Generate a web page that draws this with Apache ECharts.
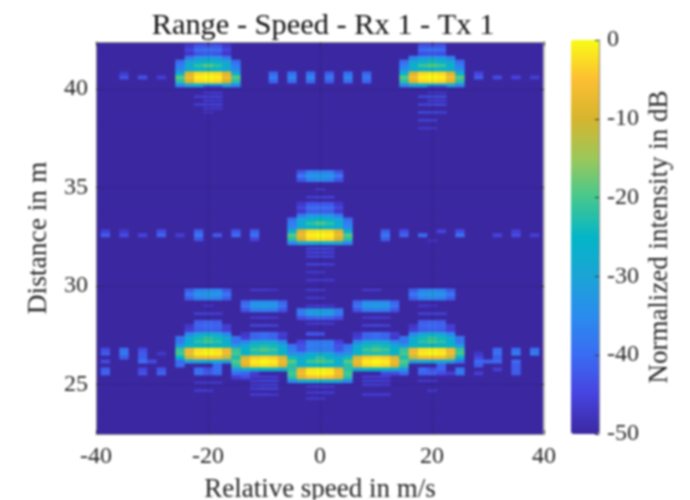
<!DOCTYPE html>
<html>
<head>
<meta charset="utf-8">
<style>
  html, body { margin: 0; padding: 0; background: #fff; }
  #chart { width: 690px; height: 500px; filter: blur(0.8px); }
</style>
<script src="https://cdn.jsdelivr.net/npm/echarts@6/dist/echarts.min.js"></script>
</head>
<body>
<div id="chart"></div>
<script>
// bin sizes of the range-doppler map
var speedStep = 5 / 3
var rangeStep = 0.2
var fineStep = 0.1
var speedBins = [-24, -23, -22, -21, -20, -19, -18, -17, -16, -15, -14, -13, -12, -11, -10, -9, -8, -7, -6, -5, -4, -3, -2, -1, 0,
  1, 2, 3, 4, 5, 6, 7, 8, 9, 10, 11, 12, 13, 14, 15, 16, 17, 18, 19, 20, 21, 22, 23, 24]
var firstRange = 22.6
var rangeRows = 100
var floorDb = -50

var yTicks = [25, 30, 35, 40]

// every row: distance in m, first speed bin, then dB values going right
var farLeftRows = [
  [42.2, -14, -47, -43, -43, -43, -47],
  [42.0, -14, -45, -40, -39, -40, -45],
  [41.8, -14, -47, -43, -42, -43, -47],
  [41.6, -14, -38, -33, -32, -33, -38],
  [41.4, -15, -40, -30, -27, -25, -27, -30, -40],
  [41.2, -15, -37, -27, -22, -19, -22, -27, -37],
  [41.0, -15, -36, -29, -26, -25, -26, -29, -36],
  [40.8, -15, -27, -9, -3, -2, -3, -9, -27],
  [40.6, -15, -19, -7, -1, 0, -1, -7, -19],
  [40.4, -15, -22, -10, -3, -2, -3, -10, -22],
  [40.2, -15, -36, -30, -28, -28, -28, -30, -36]
]
var farRightRows = [
  [42.2, 11, -43, -43, -43],
  [42.0, 11, -40, -39, -40],
  [41.8, 11, -44, -43, -44],
  [41.6, 10, -37, -33, -32, -33, -37],
  [41.4, 9, -40, -29, -26, -24, -26, -29, -40],
  [41.2, 9, -37, -26, -21, -19, -21, -26, -37],
  [41.0, 9, -35, -28, -26, -25, -26, -28, -35],
  [40.8, 9, -26, -9, -3, -2, -3, -9, -26],
  [40.6, 9, -19, -6, -1, 0, -1, -6, -19],
  [40.4, 9, -22, -9, -3, -2, -3, -9, -22],
  [40.2, 9, -36, -29, -28, -27, -28, -29, -36]
]
var farDotRows = [
  [40.8, -21, -47], [40.6, -21, -43], [40.6, -19, -43], [40.6, -17, -46],
  [40.8, -5, -41], [40.6, -5, -37], [40.4, -5, -41],
  [40.8, -3, -40], [40.6, -3, -36], [40.4, -3, -40],
  [40.8, -1, -40], [40.6, -1, -36], [40.4, -1, -40],
  [40.8, 1, -42], [40.6, 1, -38], [40.4, 1, -42],
  [40.8, 3, -40], [40.6, 3, -36], [40.4, 3, -40],
  [40.8, 5, -41], [40.6, 5, -38], [40.4, 5, -41],
  [40.6, 17, -42], [40.8, 17, -45], [40.6, 19, -44], [40.6, 21, -45], [40.6, 23, -46]
]
var centerRows = [
  [35.8, -2, -43, -37, -37, -37, -43],
  [35.6, -2, -38, -33, -32, -33, -38],
  [35.4, -2, -43, -37, -36, -37, -43],
  [34.2, -2, -47, -43, -43, -43, -47],
  [34.0, -2, -45, -40, -39, -40, -45],
  [33.8, -2, -47, -42, -42, -42, -47],
  [33.6, -2, -38, -33, -32, -33, -38],
  [33.4, -3, -40, -30, -27, -25, -27, -30, -40],
  [33.2, -3, -37, -27, -22, -19, -22, -27, -37],
  [33.0, -3, -36, -29, -26, -25, -26, -29, -36],
  [32.8, -3, -27, -9, -3, -2, -3, -9, -27],
  [32.6, -3, -19, -7, -1, 0, -1, -7, -19],
  [32.4, -3, -22, -10, -3, -2, -3, -10, -22],
  [32.2, -3, -36, -30, -28, -28, -28, -30, -36]
]
var centerDotRows = [
  [32.6, -23, -42], [32.8, -23, -46], [32.6, -21, -44], [32.8, -21, -47], [32.6, -19, -45], [32.6, -17, -41], [32.8, -17, -44],
  [32.6, -15, -46], [32.8, -13, -42], [32.6, -13, -38], [32.4, -13, -43], [32.6, -11, -42], [32.8, -9, -43], [32.6, -9, -40],
  [32.8, -7, -42], [32.6, -7, -39], [32.4, -7, -45],
  [32.8, 7, -42], [32.6, 7, -38], [32.4, 7, -42], [32.8, 9, -44], [32.6, 9, -41], [32.6, 11, -40],
  [32.8, 13, -45], [32.8, 15, -44], [32.6, 15, -39], [32.6, 19, -45], [32.6, 21, -44], [32.8, 21, -46], [32.6, 23, -46]
]
var nearLeftRows = [
  [29.8, -14, -42, -37, -36, -36, -42],
  [29.6, -14, -38, -33, -32, -33, -38],
  [29.4, -14, -42, -37, -36, -37, -42],
  [28.2, -13, -42, -41, -42],
  [28.0, -14, -47, -41, -40, -41, -46],
  [27.8, -14, -46, -42, -41, -42, -46],
  [27.6, -14, -36, -30, -28, -30, -36],
  [27.4, -15, -39, -29, -24, -22, -24, -29, -39],
  [27.2, -15, -38, -27, -22, -20, -22, -27, -38],
  [27.0, -15, -32, -25, -26, -25, -26, -25, -32],
  [26.8, -15, -21, -7, -2, -1, -2, -7, -21],
  [26.6, -15, -20, -6, -1, 0, -1, -6, -20],
  [26.4, -15, -25, -12, -6, -5, -6, -12, -25],
  [26.2, -15, -40, -31, -29, -29, -29, -31, -39],
  [26.0, -15, -40],
  [26.0, -11, -40],
  [25.8, -13, -40, -43, -39],
  [25.6, -13, -39, -42, -40]
]
var nearRightRows = [
  [29.8, 10, -42, -37, -36, -37, -42],
  [29.6, 10, -38, -33, -32, -33, -38],
  [29.4, 10, -42, -37, -36, -37, -42],
  [28.2, 11, -42, -41, -42],
  [28.0, 10, -47, -41, -40, -41, -46],
  [27.8, 10, -46, -42, -41, -42, -46],
  [27.6, 10, -36, -30, -28, -30, -36],
  [27.4, 9, -39, -29, -24, -22, -24, -29, -39],
  [27.2, 9, -38, -27, -22, -20, -22, -27, -38],
  [27.0, 9, -32, -25, -26, -25, -26, -25, -32],
  [26.8, 9, -21, -7, -2, -1, -2, -7, -21],
  [26.6, 9, -20, -6, -1, 0, -1, -6, -20],
  [26.4, 9, -25, -12, -6, -5, -6, -12, -25],
  [26.2, 9, -39, -31, -29, -29, -29, -31, -39],
  [26.0, 13, -41],
  [25.8, 11, -40, -43, -41],
  [25.8, 15, -38],
  [25.6, 11, -41, -41, -44, -46, -38]
]
var nearMidLeftRows = [
  [29.2, -8, -41, -35, -34, -35, -41],
  [29.0, -8, -39, -33, -32, -33, -39],
  [28.8, -8, -43, -38, -37, -38, -43],
  [27.6, -8, -47, -41, -40, -41, -46],
  [27.4, -8, -46, -41, -40, -41, -47],
  [27.2, -8, -36, -30, -28, -30, -36],
  [27.0, -9, -39, -28, -24, -23, -24, -28, -39],
  [26.8, -9, -27, -26, -21, -19, -21, -26, -37],
  [26.6, -9, -22, -26, -23, -23, -23, -26, -34],
  [26.4, -9, -23, -9, -4, -3, -4, -9, -24],
  [26.2, -9, -19, -7, -1, 0, -1, -7, -19],
  [26.0, -9, -22, -9, -3, -2, -3, -9, -22],
  [25.8, -9, -33, -28, -26, -26, -26, -28, -33],
  [25.6, -9, -40, -41, -46],
  [25.4, -9, -46, -44]
]
var nearMidRightRows = [
  [29.2, 4, -41, -35, -34, -35, -41],
  [29.0, 4, -39, -33, -32, -33, -39],
  [28.8, 4, -43, -38, -37, -38, -43],
  [27.6, 4, -47, -41, -40, -41, -46],
  [27.4, 4, -46, -41, -40, -41, -47],
  [27.2, 4, -36, -30, -28, -30, -36],
  [27.0, 3, -39, -28, -24, -23, -24, -28, -39],
  [26.8, 3, -37, -26, -21, -19, -21, -26, -27],
  [26.6, 3, -34, -26, -23, -23, -23, -26, -22],
  [26.4, 3, -24, -9, -4, -3, -4, -9, -23],
  [26.2, 3, -19, -7, -1, 0, -1, -7, -19],
  [26.0, 3, -22, -9, -3, -2, -3, -9, -22],
  [25.8, 3, -33, -28, -26, -26, -26, -28, -33],
  [25.6, 7, -44, -44],
  [25.6, 9, -40]
]
var nearCenterRows = [
  [28.8, -2, -38, -33, -32, -33, -38],
  [28.6, -2, -38, -32, -31, -32, -38],
  [28.4, -2, -44, -42, -41, -42, -44],
  [27.6, -1, -43, -43],
  [27.2, -2, -45, -38, -38, -38, -45],
  [27.0, -2, -43, -37, -37, -37, -43],
  [26.8, -2, -43, -38, -38, -38, -43],
  [26.6, -2, -34, -30, -29, -30, -36],
  [26.4, -3, -36, -29, -25, -22, -25, -29, -36],
  [26.2, -3, -32, -26, -21, -19, -21, -26, -32],
  [26.0, -3, -31, -28, -26, -25, -26, -28, -31],
  [25.8, -3, -22, -8, -2, -1, -2, -8, -22],
  [25.6, -3, -20, -6, -1, 0, -1, -6, -20],
  [25.4, -3, -22, -9, -5, -4, -5, -9, -22],
  [25.2, -3, -36, -30, -28, -28, -28, -30, -36]
]
var nearDotRows = [
  [26.8, -23, -44], [26.6, -23, -42], [26.2, -23, -44], [25.8, -23, -42], [25.6, -23, -41],
  [26.8, -21, -39], [26.6, -21, -38], [26.4, -21, -42],
  [26.8, -19, -44], [26.6, -19, -42], [26.4, -19, -42], [26.2, -19, -39], [26.2, -18, -44], [25.8, -19, -45], [25.6, -19, -43],
  [26.6, -17, -47], [25.8, -17, -43], [25.6, -17, -41],
  [26.6, 17, -47], [26.4, 17, -45], [26.2, 17, -40], [26.0, 17, -42], [26.2, 18, -41], [26.2, 19, -40], [25.6, 17, -46],
  [26.8, 19, -40], [26.6, 19, -39], [26.4, 19, -42], [25.8, 19, -46],
  [26.8, 21, -40], [26.6, 21, -37], [26.2, 21, -40], [26.0, 21, -42], [25.8, 21, -42], [25.6, 21, -42],
  [26.8, 23, -39], [26.6, 23, -37]
]
// thin side lobes, half a row high
var farFineLines = [
  [40.1, -12, -47, -47], [39.8, -12, -46, -46], [39.6, -13, -45, -44, -44], [39.4, -12, -45, -46],
  [39.2, -13, -45, -44, -44], [39.0, -12, -46, -46], [38.8, -12, -47],
  [40.1, 12, -47, -47], [39.8, 12, -47, -47], [39.6, 11, -43, -42, -42], [39.4, 12, -45, -45],
  [39.2, 11, -44, -43, -43], [38.8, 11, -43, -43, -44], [38.4, 11, -44, -44], [38.0, 11, -46, -46]
]
var centerFineLines = [
  [34.9, 0, -46], [34.5, -1, -45, -44, -44], [31.9, -1, -44, -43, -44], [31.7, -1, -44, -43, -44],
  [31.5, -1, -44, -44, -44], [31.1, -1, -44, -44, -45], [30.7, -1, -46, -46], [30.3, -1, -46, -46, -46],
  [32.3, 12, -47]
]
var nearFineLines = [
  [29.0, -12, -47], [28.6, -13, -44, -44, -45], [25.1, -13, -46, -46, -46], [24.7, -13, -45, -45],
  [29.0, 11, -46, -47], [28.6, 11, -44, -44, -44], [25.2, 11, -46, -46], [24.7, 12, -46],
  [29.8, -7, -46, -46, -47], [28.4, -7, -46, -45, -46], [28.0, -7, -43, -43, -44],
  [25.4, -7, -45, -45, -45], [25.2, -7, -45, -44, -44], [25.0, -7, -45, -44, -44], [24.8, -7, -45, -44, -44], [24.5, -7, -45, -45, -46],
  [29.8, 5, -46, -46], [28.4, 5, -46, -45, -46], [28.0, 5, -44, -43, -44],
  [25.4, 5, -45, -45, -45], [25.2, 5, -45, -45, -45], [25.0, 5, -44, -44, -45], [24.5, 5, -45, -45, -45],
  [29.8, -1, -46, -46], [29.4, -1, -46, -46], [29.0, -1, -46, -45, -46], [28.1, -1, -46, -45, -46],
  [24.9, -1, -46, -45, -46], [24.6, -1, -46, -45, -45], [24.3, -1, -46, -46]
]

var allRows = [farLeftRows, farRightRows, farDotRows, centerRows, centerDotRows, nearLeftRows, nearRightRows,
  nearMidLeftRows, nearMidRightRows, nearCenterRows, nearDotRows]
var allFineLines = [farFineLines, centerFineLines, nearFineLines]

// loudest value wins where two targets share a cell
var levels = {}
allRows.forEach(function(rows) {
  rows.forEach(function(row) {
    for (var i = 2; i < row.length; i++) {
      var key = (row[1] + i - 2) + '_' + Math.round(row[0] * 10)
      if (levels[key] === undefined || row[i] > levels[key]) {
        levels[key] = row[i]
      }
    }
  })
})

// cell: speed, distance, dB, row height
var cells = []
speedBins.forEach(function(bin) {
  for (var r = 0; r < rangeRows; r++) {
    var dist = Math.round((firstRange + r * rangeStep) * 10)
    var db = levels[bin + '_' + dist]
    cells.push([bin * speedStep, dist / 10, db === undefined ? floorDb : db, rangeStep])
  }
})
allFineLines.forEach(function(lines) {
  lines.forEach(function(line) {
    for (var i = 2; i < line.length; i++) {
      cells.push([(line[1] + i - 2) * speedStep, line[0], line[i], fineStep])
    }
  })
})

function renderCell(params, api) {
  var x = api.value(0)
  var y = api.value(1)
  var h = api.value(3)
  var a = api.coord([x - speedStep / 2, y + h / 2])
  var b = api.coord([x + speedStep / 2, y - h / 2])
  var rect = echarts.graphic.clipRectByRect({
    x: a[0], y: a[1], width: b[0] - a[0] + 0.5, height: b[1] - a[1] + (h === rangeStep ? 0.5 : 0)
  }, {
    x: params.coordSys.x, y: params.coordSys.y,
    width: params.coordSys.width, height: params.coordSys.height
  })
  return rect && { type: 'rect', shape: rect, style: { fill: api.visual('color') } }
}

var parula = ['#3b28a1', '#4743e0', '#3a6cf2', '#2a8cee', '#1ba4d6', '#04b5c8', '#45c88e', '#9cc85a', '#d6b52e', '#fcbf33', '#f9fb15']
var serif = '"Liberation Serif", serif'
var textColor = '#262626'
var lineColor = '#8a8a8a'

var chart = echarts.init(document.getElementById('chart'), null, { width: 690, height: 500 })

chart.setOption({
  animation: false,
  backgroundColor: '#fff',
  title: {
    text: 'Range - Speed - Rx 1 - Tx 1',
    left: 318, top: 6, textAlign: 'center',
    textStyle: { fontFamily: serif, fontWeight: 'normal', fontSize: 30.4, color: '#111111' }
  },
  grid: [
    { left: 96, top: 42, width: 448, height: 392, show: true, backgroundColor: '#3b28a1', borderWidth: 0, outerBoundsMode: 'none' },
    { left: 571, top: 40, width: 28, height: 394, show: true, backgroundColor: 'transparent', borderWidth: 0, outerBoundsMode: 'none' }
  ],
  visualMap: {
    type: 'continuous', seriesIndex: 0, dimension: 2, min: -50, max: 0,
    left: 571, top: 40, itemWidth: 28, itemHeight: 394, padding: 0,
    text: ['', ''], calculable: false, realtime: false, hoverLink: false,
    inRange: { color: parula }
  },
  xAxis: [
    {
      type: 'value', gridIndex: 0, min: -40, max: 40, interval: 20, z: 5, position: 'bottom',
      name: 'Relative speed in m/s', nameLocation: 'middle', nameGap: 42,
      nameTextStyle: { fontFamily: serif, fontSize: 27, color: textColor },
      axisLine: { show: true, onZero: false, lineStyle: { color: lineColor } },
      axisTick: { show: true, inside: true, length: 4, lineStyle: { color: '#303030' } },
      axisLabel: { fontFamily: serif, fontSize: 24, color: textColor, margin: 11 },
      splitLine: { show: true, lineStyle: { color: 'rgba(0,0,0,0.13)' } }
    },
    {
      type: 'value', gridIndex: 0, min: -40, max: 40, interval: 20, z: 5, position: 'top',
      axisLine: { show: true, onZero: false, lineStyle: { color: lineColor } },
      axisTick: { show: true, inside: true, length: 4, lineStyle: { color: '#303030' } },
      axisLabel: { show: false }, splitLine: { show: false }
    },
    { type: 'value', gridIndex: 1, min: 0, max: 1, show: false }
  ],
  yAxis: [
    {
      type: 'value', gridIndex: 0, min: 22.5, max: 42.37, z: 5, position: 'left',
      name: 'Distance in m', nameLocation: 'middle', nameGap: 43, nameRotate: 90,
      nameTextStyle: { fontFamily: serif, fontSize: 27.5, color: textColor },
      axisLine: { show: true, onZero: false, lineStyle: { color: lineColor } },
      axisTick: { show: true, inside: true, length: 4, customValues: yTicks, lineStyle: { color: '#303030' } },
      axisLabel: { fontFamily: serif, fontSize: 24, color: textColor, margin: 8, customValues: yTicks },
      splitLine: { show: true, lineStyle: { color: 'rgba(0,0,0,0.13)' } }
    },
    {
      type: 'value', gridIndex: 0, min: 22.5, max: 42.37, z: 5, position: 'right',
      axisLine: { show: true, onZero: false, lineStyle: { color: '#bdbdbd', width: 2 } },
      axisTick: { show: true, inside: true, length: 4, customValues: yTicks, lineStyle: { color: '#303030' } },
      axisLabel: { show: false }, splitLine: { show: false }
    },
    {
      type: 'value', gridIndex: 1, min: -50, max: 0, interval: 10, z: 5, position: 'right',
      name: 'Normalized intensity in dB', nameLocation: 'middle', nameGap: 47, nameRotate: 90,
      nameTextStyle: { fontFamily: serif, fontSize: 27, color: textColor },
      axisLine: { show: true, onZero: false, lineStyle: { color: lineColor } },
      axisTick: { show: true, inside: true, length: 4, lineStyle: { color: '#303030' } },
      axisLabel: { fontFamily: serif, fontSize: 24, color: textColor, margin: 8 },
      splitLine: { show: false }
    }
  ],
  series: [{
    type: 'custom',
    xAxisIndex: 0,
    yAxisIndex: 0,
    renderItem: renderCell,
    encode: { x: 0, y: 1 },
    data: cells,
    silent: true
  }]
})
</script>
</body>
</html>
